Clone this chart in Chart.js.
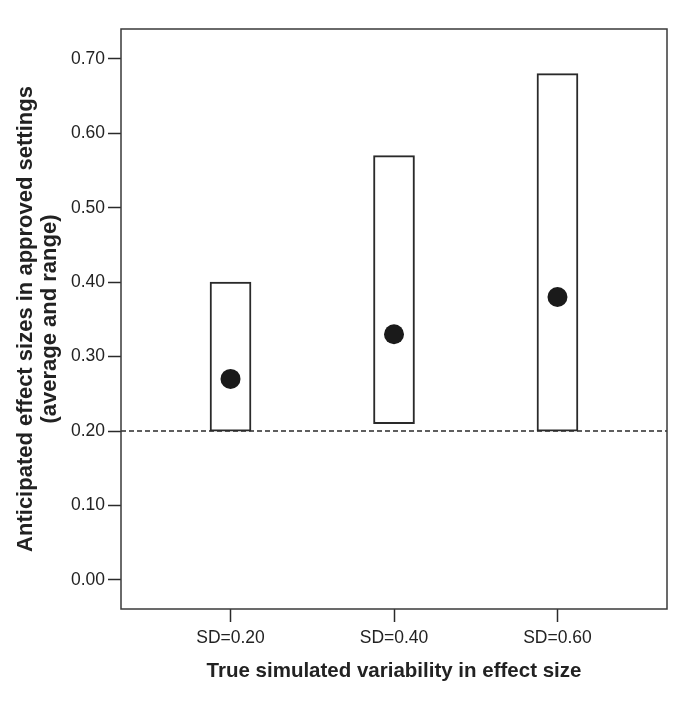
<!DOCTYPE html>
<html lang="en">
<head>
  <meta charset="UTF-8" />
  <title>Anticipated effect sizes</title>
  <script src="https://cdn.jsdelivr.net/npm/chart.js"></script>
  <style>
    html, body {
      margin: 0;
      padding: 0;
      background: #fff;
    }
    #chart-container {
      width: 685px;
      height: 704px;
    }
  </style>
</head>
<body>
  <div id="chart-container">
    <canvas id="effectChart"></canvas>
  </div>

  <script>
    // data
    const categories = ['SD=0.20', 'SD=0.40', 'SD=0.60'];
    const rangeLow = [0.20, 0.21, 0.20];
    const rangeHigh = [0.40, 0.57, 0.68];
    const averages = [0.27, 0.33, 0.38];
    const thresholdValue = 0.20;
    const yTickValues = [0.00, 0.10, 0.20, 0.30, 0.40, 0.50, 0.60, 0.70];

    // x positions 1..n on a linear axis
    const xPos = categories.map((_, i) => i + 1);
    const xMin = 0.33, xMax = 3.67;
    const yMin = -0.039, yMax = 0.74;

    const ink = '#2a2a2a';
    const textColor = '#222';
    const fontFamily = 'Liberation Sans, Arial, sans-serif';

    // frame around the plot area
    const frame = {
      id: 'frame',
      afterDatasetsDraw(chart) {
        const {ctx, chartArea: a} = chart;
        ctx.save();
        ctx.strokeStyle = '#3a3a3a';
        ctx.lineWidth = 1.5;
        ctx.strokeRect(a.left, a.top, a.right - a.left, a.bottom - a.top);
        ctx.restore();
      }
    };

    const ctx = document.getElementById('effectChart').getContext('2d');

    new Chart(ctx, {
      type: 'bar',
      data: {
        datasets: [
          {
            // average
            type: 'line',
            data: xPos.map((x, i) => ({x: x, y: averages[i]})),
            showLine: false,
            pointRadius: 10,
            pointBackgroundColor: '#1a1a1a',
            pointBorderColor: '#1a1a1a',
            pointBorderWidth: 0,
            order: 1
          },
          {
            // range
            data: xPos.map((x, i) => ({x: x, y: [rangeLow[i], rangeHigh[i]]})),
            backgroundColor: '#fff',
            borderColor: ink,
            borderWidth: 2,
            borderSkipped: false,
            barThickness: 41,
            order: 2
          },
          {
            // dashed reference line
            type: 'line',
            data: [{x: xMin, y: thresholdValue}, {x: xMax, y: thresholdValue}],
            borderColor: ink,
            borderWidth: 1.5,
            borderDash: [5, 3],
            pointRadius: 0,
            fill: false,
            order: 3
          }
        ]
      },
      options: {
        responsive: true,
        maintainAspectRatio: false,
        animation: false,
        layout: {
          padding: {top: 29, right: 18, left: 0, bottom: 0}
        },
        plugins: {
          legend: {display: false},
          tooltip: {enabled: false}
        },
        scales: {
          x: {
            type: 'linear',
            offset: false,
            min: xMin,
            max: xMax,
            afterBuildTicks(scale) {
              scale.ticks = xPos.map(v => ({value: v}));
            },
            afterFit(scale) {
              scale.height = 95;
            },
            grid: {
              offset: false,
              drawOnChartArea: false,
              drawTicks: true,
              tickLength: 13,
              color: ink,
              tickWidth: 1.5
            },
            border: {display: false},
            ticks: {
              padding: 6,
              color: textColor,
              font: {family: fontFamily, size: 17.5},
              callback: (v) => categories[Math.round(v) - 1] || ''
            },
            title: {
              display: true,
              text: 'True simulated variability in effect size',
              color: textColor,
              font: {family: fontFamily, size: 20.5, weight: 'bold'},
              padding: {top: 0, bottom: 20}
            }
          },
          y: {
            min: yMin,
            max: yMax,
            afterBuildTicks(scale) {
              scale.ticks = yTickValues.map(v => ({value: v}));
            },
            afterFit(scale) {
              scale.width = 121;
            },
            grid: {
              drawOnChartArea: false,
              drawTicks: true,
              tickLength: 13,
              color: ink,
              tickWidth: 1.5
            },
            border: {display: false},
            ticks: {
              padding: 3,
              color: textColor,
              font: {family: fontFamily, size: 17.5},
              callback: (v) => Number(v).toFixed(2)
            },
            title: {
              display: true,
              text: ['Anticipated effect sizes in approved settings', '(average and range)'],
              color: textColor,
              font: {family: fontFamily, size: 22, weight: 'bold', lineHeight: '24px'},
              padding: {top: 14, bottom: 0}
            }
          }
        }
      },
      plugins: [frame]
    });
  </script>
</body>
</html>
